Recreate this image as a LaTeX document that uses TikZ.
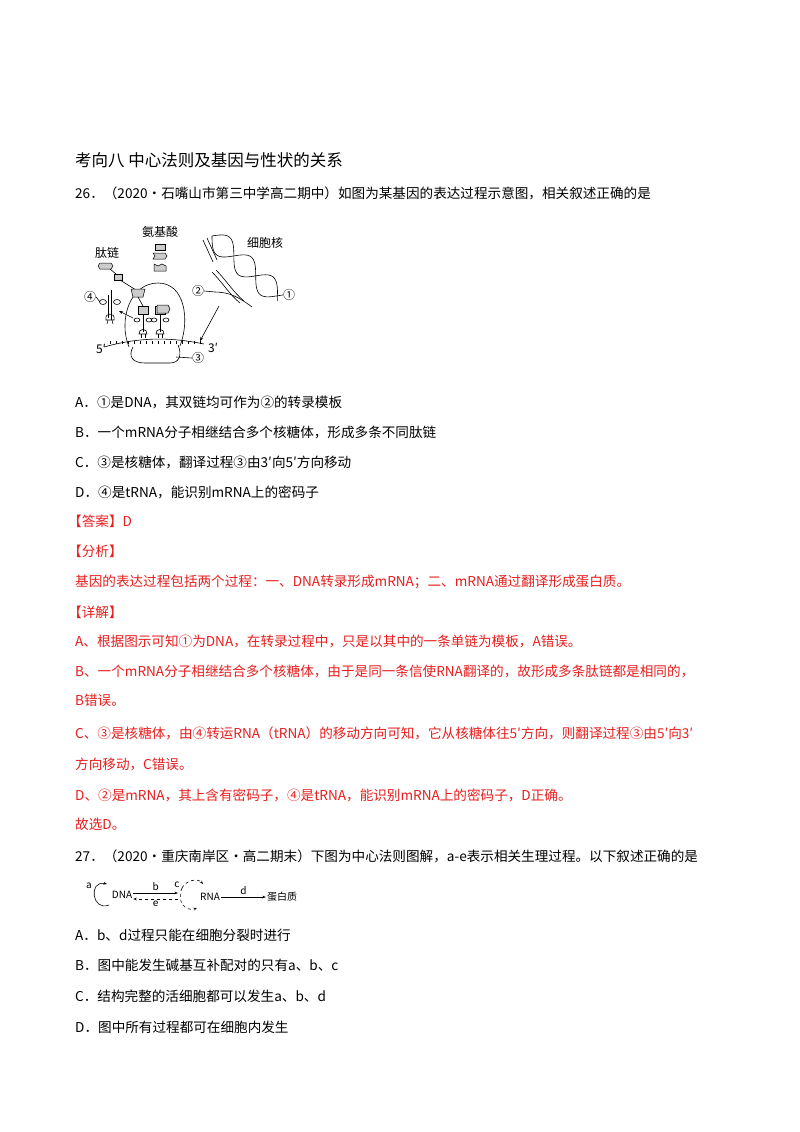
\documentclass[tikz,border=0pt]{standalone}
\usepackage{fontspec}
\setmainfont{Noto Sans CJK SC}
\newfontfamily\cjk{Noto Sans CJK SC}
\usetikzlibrary{arrows.meta}
\definecolor{ans}{RGB}{230,30,30}
\begin{document}
\begin{tikzpicture}[x=1pt,y=-1pt,
  txt/.style={anchor=west,inner sep=0,font=\fontsize{13.6}{16}\selectfont},
  rtxt/.style={txt,text=ans},
  lab/.style={inner sep=0,font=\fontsize{12}{14}\selectfont},
  blk/.style={draw,fill=gray!40,line width=0.5pt},
  thin/.style={line width=0.6pt}]
\useasboundingbox (0,0) rectangle (800,1132);
\node[txt,font=\fontsize{16.5}{19}\selectfont] (title) at (75,160) {考向八\ 中心法则及基因与性状的关系};
\node[txt] (q26) at (75,193) {26．（2020·石嘴山市第三中学高二期中）如图为某基因的表达过程示意图，相关叙述正确的是};
% ===== figure 1 =====
\node[lab] (aa) at (160,232) {氨基酸};
\node[lab] (pep) at (107,253) {肽链};
\node[lab] (nuc) at (265,243) {细胞核};
\node[lab] (n1) at (289,295) {①};
\node[lab] (n2) at (198,291) {②};
\node[lab] (n3) at (198,358) {③};
\node[lab] (n4) at (90,297) {④};
\node[lab] (p5) at (101,349) {5′};
\node[lab] (p3) at (213,348) {3′};
% amino acids
\draw[blk] (155,244) rectangle (165,250);
\draw[blk] (153,253) -- (165,253) -- (167,256) -- (165,259) -- (153,259) -- (155,256) -- cycle;
\draw[blk] (154,264) -- (158,266) -- (162,264) -- (166,266) -- (166,271) -- (154,271) -- cycle;
% ribosome
\draw[thin] (129,347) .. controls (118,320) and (130,283) .. (158,283) .. controls (185,283) and (190,320) .. (180,346);
\draw[thin] (133,347) .. controls (128,356) and (132,363) .. (145,363) -- (170,363) .. controls (180,363) and (182,354) .. (178,345);
% mRNA
\draw[thin] (104,347) .. controls (140,337) and (170,337) .. (204,344);
\foreach \x in {110,116,...,200}{\draw[line width=0.4pt] (\x,344) -- ++(0,-3);}
\draw[thin] (176,357) -- (n3.west);
% peptide
\draw[blk] (100,263) -- (111,263) -- (113,266) -- (111,269) -- (100,269) -- (98,266) -- cycle;
\draw[blk] (114,274) rectangle (122,280);
\draw[thin] (110,269) -- (116,274) (120,280) -- (136,290);
\draw[blk] (131,289) -- (145,289) -- (143,297) -- (133,297) -- cycle;
% tRNAs on ribosome
\foreach \x in {143,160}{
  \draw[blk] (\x-5,306) rectangle (\x+5,314);
  \draw[thin] (\x,314) -- (\x,332);
  \draw[thin] (\x-6,320) ellipse (3 and 2) (\x+6,320) ellipse (3 and 2);
  \draw[thin] (\x-4,334) .. controls (\x-5,328) and (\x+5,328) .. (\x+4,334) -- cycle;
  \draw[thin] (\x-2,334) -- (\x-2,338) (\x+2,334) -- (\x+2,338);
}
\draw[blk] (157,305) -- (168,305) -- (170,309) -- (168,313) -- (157,313) -- cycle;
\draw[thin] (138,297) -- (143,306);
% free tRNA
\draw[thin] (111,290) -- (111,320) (108,295) -- (108,318);
\draw[thin] (103,302) ellipse (3.5 and 2.5) (117,302) ellipse (3.5 and 2.5);
\draw[thin] (106,320) .. controls (104,312) and (116,312) .. (114,320) -- cycle;
\draw[thin] (108,320) -- (107,324) (112,320) -- (113,324);
\draw[thin] (n4.east) -- (100,302);
\draw[thin,-{Stealth[length=4pt]}] (133,318) -- (119,311);
% DNA helix
\draw[thin] plot[smooth,samples=40,domain=0:1] ({212+68*\x-0.62*11*sin(560*\x)},{236+62*\x+0.78*11*sin(560*\x)}) -- (n1.west);
\draw[thin] plot[smooth,samples=40,domain=0:1] ({212+68*\x+0.62*11*sin(560*\x)},{236+62*\x-0.78*11*sin(560*\x)});
\draw[thin] (203,240) -- (213,262) (207,238) -- (217,260);
\draw[thin] (212,272) .. controls (222,282) and (230,295) .. (240,303);
\draw[thin] (216,270) .. controls (226,280) and (234,293) .. (244,301);
\draw[thin] (n2.east) -- (215,292) .. controls (230,292) and (240,298) .. (252,307);
\draw[thin,-{Stealth[length=4pt]}] (219,306) -- (200,341);
% options
\node[txt] (oA) at (75,402) {A．①是DNA，其双链均可作为②的转录模板};
\node[txt] (oB) at (75,432) {B．一个mRNA分子相继结合多个核糖体，形成多条不同肽链};
\node[txt] (oC) at (75,462) {C．③是核糖体，翻译过程③由3′向5′方向移动};
\node[txt] (oD) at (75,492) {D．④是tRNA，能识别mRNA上的密码子};
\node[rtxt] (ans) at (68,521) {【答案】D};
\node[rtxt] (ana) at (68,551) {【分析】};
\node[rtxt] (ana1) at (75,582) {基因的表达过程包括两个过程：一、DNA转录形成mRNA；二、mRNA通过翻译形成蛋白质。};
\node[rtxt] (det) at (68,612) {【详解】};
\node[rtxt] (d1) at (75,641) {A、根据图示可知①为DNA，在转录过程中，只是以其中的一条单链为模板，A错误。};
\node[rtxt] (d2) at (75,671) {B、一个mRNA分子相继结合多个核糖体，由于是同一条信使RNA翻译的，故形成多条肽链都是相同的，};
\node[rtxt] (d2b) at (75,700) {B错误。};
\node[rtxt] (d3) at (75,733) {C、③是核糖体，由④转运RNA（tRNA）的移动方向可知，它从核糖体往5′方向，则翻译过程③由5′向3′};
\node[rtxt] (d3b) at (75,764) {方向移动，C错误。};
\node[rtxt] (d4) at (75,795) {D、②是mRNA，其上含有密码子，④是tRNA，能识别mRNA上的密码子，D正确。};
\node[rtxt] (d5) at (75,824) {故选D。};
\node[txt] (q27) at (75,856) {27．（2020·重庆南岸区·高二期末）下图为中心法则图解，a-e表示相关生理过程。以下叙述正确的是};
% ===== figure 2 =====
\begin{scope}[font=\fontsize{10}{12}\selectfont]
\node[inner sep=1pt] (dna) at (122,895) {DNA};
\node[inner sep=1pt] (rna) at (210,897) {RNA};
\node[inner sep=1pt] (pro) at (282,897) {蛋白质};
\node[inner sep=0] (la) at (89,886) {a};
\draw[thin,-{Stealth[length=3.5pt]}] (109,905) .. controls (92,912) and (88,880) .. (107,884);
\draw[thin,-{Stealth[length=3.5pt]}] (dna.east |- 0,893) -- (178,893) node[midway,above=-1pt] {b};
\draw[thin,dashed,-{Stealth[length=3.5pt]}] (178,899) -- (dna.east |- 0,899) node[midway,below=-2pt] {e};
\node[inner sep=0] (lc) at (177,885) {c};
\draw[thin,dashed,-{Stealth[length=3.5pt]}] (182,888) .. controls (186,880) and (198,878) .. (203,884);
\draw[thin,dashed,-{Stealth[length=3.5pt]}] (182,888) .. controls (176,902) and (186,912) .. (197,908);
\draw[thin,-{Stealth[length=3.5pt]}] (rna.east) -- (pro.west) node[midway,above=-1pt] {d};
\end{scope}
\node[txt] (pA) at (75,935) {A．b、d过程只能在细胞分裂时进行};
\node[txt] (pB) at (75,965) {B．图中能发生碱基互补配对的只有a、b、c};
\node[txt] (pC) at (75,996) {C．结构完整的活细胞都可以发生a、b、d};
\node[txt] (pD) at (75,1027) {D．图中所有过程都可在细胞内发生};
\end{tikzpicture}
\end{document}
